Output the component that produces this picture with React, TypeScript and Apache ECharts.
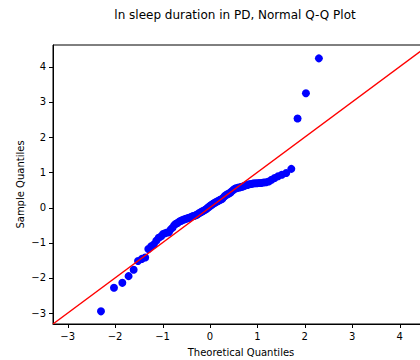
import React, { useEffect, useRef } from "react";
import * as echarts from "echarts";

const titleText = "ln sleep duration in PD, Normal Q-Q Plot";
const xName = "Theoretical Quantiles";
const yName = "Sample Quantiles";

// theoretical quantiles (x)
const theoretical = [
  -2.298, -2.024, -1.848, -1.716, -1.609, -1.517, -1.438, -1.366, -1.3, -1.239,
  -1.184, -1.131, -1.081, -1.034, -0.989, -0.946, -0.905, -0.865, -0.826, -0.789,
  -0.753, -0.717, -0.683, -0.649, -0.616, -0.584, -0.553, -0.521, -0.491, -0.46,
  -0.431, -0.401, -0.372, -0.343, -0.315, -0.287, -0.259, -0.231, -0.204, -0.176,
  -0.149, -0.122, -0.094, -0.067, -0.04, -0.013, 0.013, 0.04, 0.067, 0.094,
  0.122, 0.149, 0.176, 0.204, 0.231, 0.259, 0.287, 0.315, 0.343, 0.372,
  0.401, 0.431, 0.46, 0.491, 0.521, 0.553, 0.584, 0.616, 0.649, 0.683,
  0.717, 0.753, 0.789, 0.826, 0.865, 0.905, 0.946, 0.989, 1.034, 1.081,
  1.131, 1.184, 1.239, 1.3, 1.366, 1.438, 1.517, 1.609, 1.716, 1.848,
  2.024, 2.298,
];

// sample quantiles (y)
const sample = [
  -2.95, -2.28, -2.14, -1.95, -1.77, -1.52, -1.46, -1.42, -1.18, -1.1,
  -1.05, -0.94, -0.86, -0.82, -0.75, -0.73, -0.71, -0.7, -0.62, -0.57,
  -0.5, -0.46, -0.44, -0.4, -0.38, -0.36, -0.34, -0.33, -0.31, -0.3,
  -0.29, -0.27, -0.25, -0.24, -0.23, -0.21, -0.19, -0.16, -0.14, -0.12,
  -0.1, -0.08, -0.06, -0.03, 0.0, 0.03, 0.06, 0.08, 0.11, 0.13,
  0.15, 0.17, 0.19, 0.21, 0.23, 0.25, 0.29, 0.33, 0.36, 0.38,
  0.4, 0.43, 0.46, 0.5, 0.53, 0.55, 0.56, 0.57, 0.58, 0.59,
  0.61, 0.63, 0.64, 0.66, 0.67, 0.68, 0.69, 0.69, 0.7, 0.7,
  0.71, 0.72, 0.74, 0.79, 0.84, 0.89, 0.93, 0.98, 1.1, 2.53,
  3.25, 4.24,
];

const axisMin = -3.31;
const axisMax = 4.62;
const tickValues = [-3, -2, -1, 0, 1, 2, 3, 4];
const lineEnds = [axisMin, axisMax];

const fmt = (v: number) => (v < 0 ? "\u2212" + Math.abs(v) : String(v));

export default function App() {
  const ref = useRef<HTMLDivElement>(null);
  useEffect(() => {
    if (!ref.current) return;
    const chart = echarts.init(ref.current, undefined, { renderer: "svg" });
    const font = "DejaVu Sans";
    const axisCommon = (name: string, gap: number) => ({
      type: "value" as const,
      min: axisMin,
      max: axisMax,
      name,
      nameLocation: "middle" as const,
      nameGap: gap,
      nameMoveOverlap: false,
      nameTextStyle: { fontFamily: font, fontSize: 10, color: "#000" },
      axisLine: { show: true, onZero: false, lineStyle: { color: "#000", width: 1 } },
      splitLine: { show: false },
      axisTick: { show: false },
      axisLabel: {
        show: true,
        margin: 7,
        customValues: tickValues,
        formatter: fmt,
        fontFamily: font,
        fontSize: 10,
        color: "#000",
      },
    });
    const titleEl = {
      type: "text",
      x: 235,
      y: 15,
      style: {
        text: titleText,
        font: "12px 'DejaVu Sans'",
        fill: "#000",
        textAlign: "center",
        textVerticalAlign: "middle",
      },
    };
    chart.setOption({
      animation: false,
      backgroundColor: "#fff",
      graphic: [titleEl],
      grid: {
        left: 53,
        top: 45,
        width: 376,
        height: 279,
        show: true,
        borderColor: "#000",
        borderWidth: 1,
        containLabel: false,
        outerBoundsMode: "none",
      },
      xAxis: axisCommon(xName, 23),
      yAxis: axisCommon(yName, 28),
      series: [
        {
          type: "scatter",
          data: theoretical.map((x, i) => [x, sample[i]]),
          symbol: "circle",
          symbolSize: 8,
          itemStyle: { color: "#0000ff", opacity: 1 },
          z: 2,
        },
        {
          type: "line",
          data: lineEnds.map((v) => [v, v]),
          showSymbol: false,
          symbol: "none",
          lineStyle: { color: "#ff0000", width: 1.5 },
          z: 3,
        },
      ],
    });
    // tick marks placed through the chart's own scales, drawn as filled rects
    const tickEls: any[] = [];
    tickValues.forEach((v) => {
      const px = chart.convertToPixel({ xAxisIndex: 0 }, v) as number;
      const py = chart.convertToPixel({ yAxisIndex: 0 }, v) as number;
      if (typeof px === "number" && isFinite(px)) {
        tickEls.push({
          type: "rect",
          z: 100,
          silent: true,
          shape: { x: Math.round(px), y: 324, width: 1, height: 4 },
          style: { fill: "#000" },
        });
      }
      if (typeof py === "number" && isFinite(py)) {
        tickEls.push({
          type: "rect",
          z: 100,
          silent: true,
          shape: { x: 49, y: Math.round(py), width: 4, height: 1 },
          style: { fill: "#000" },
        });
      }
    });
    chart.setOption({ graphic: [titleEl, ...tickEls] });
    return () => chart.dispose();
  }, []);
  return (
    <div
      ref={ref}
      style={{ position: "fixed", left: 0, top: 0, width: 420, height: 360 }}
    />
  );
}
